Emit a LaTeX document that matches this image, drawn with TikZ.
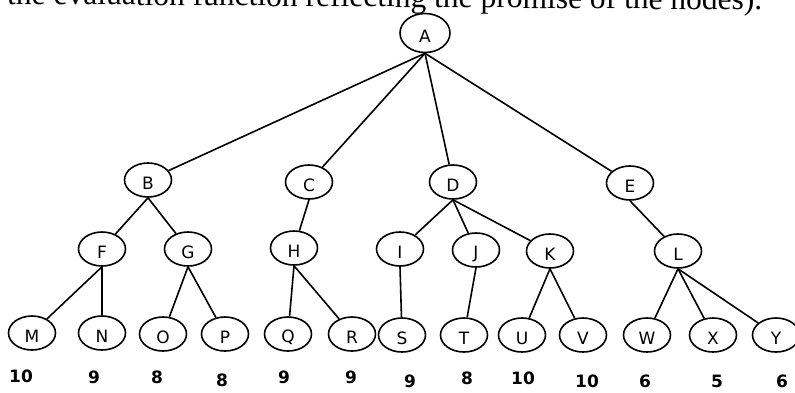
\documentclass[tikz,border=0pt]{standalone}
\usepackage{fontspec}
\setmainfont{Liberation Serif}
\newfontfamily\nodefont{DejaVu Sans}
\usetikzlibrary{shapes.geometric}

\tikzset{
  treenode/.style={ellipse, draw, line width=1.6pt, inner sep=0pt,
                   minimum width=47pt, minimum height=34pt},
  rootnode/.style={treenode, minimum width=50pt, minimum height=39pt},
  letter/.style={yshift=-3.5pt, inner sep=0pt, font=\nodefont\fontsize{17}{17}\selectfont},
  score/.style={inner sep=0pt, font=\nodefont\bfseries\fontsize{17}{17}\selectfont},
  edge/.style={line width=1.6pt},
}

\begin{document}
\begin{tikzpicture}[x=1pt, y=-1pt]
  \useasboundingbox (0,0) rectangle (795,392);
  \clip (0,0) rectangle (795,392);

  % running text line above the tree
  \node[anchor=base west, inner sep=0pt, rotate=-0.45] (caption) at (7,4)
    {\resizebox{755pt}{!}{the evaluation function reflecting the promise of the nodes).}};

  % root
  \node[rootnode, label={[letter]center:A}] (A) at (425,33) {};

  % level 1
  \node[treenode, label={[letter]center:B}] (B) at (148,180) {};
  \node[treenode, label={[letter]center:C}] (C) at (309,182) {};
  \node[treenode, label={[letter]center:D}] (D) at (453,182) {};
  \node[treenode, label={[letter]center:E}] (E) at (630,183) {};

  % level 2
  \node[treenode, label={[letter]center:F}] (F) at (102,249) {};
  \node[treenode, label={[letter]center:G}] (G) at (188,249) {};
  \node[treenode, label={[letter]center:H}] (H) at (294,248) {};
  \node[treenode, label={[letter]center:I}] (I) at (400,249) {};
  \node[treenode, label={[letter]center:J}] (J) at (476,250) {};
  \node[treenode, label={[letter]center:K}] (K) at (550,251) {};
  \node[treenode, label={[letter]center:L}] (L) at (678,251) {};

  % leaves
  \node[treenode, label={[letter]center:M}] (M) at (32,333) {};
  \node[treenode, label={[letter]center:N}] (N) at (102,333) {};
  \node[treenode, label={[letter]center:O}] (O) at (163,334) {};
  \node[treenode, label={[letter]center:P}] (P) at (225,334) {};
  \node[treenode, label={[letter]center:Q}] (Q) at (288,334) {};
  \node[treenode, label={[letter]center:R}] (R) at (352,334) {};
  \node[treenode, label={[letter]center:S}] (S) at (402,335) {};
  \node[treenode, label={[letter]center:T}] (T) at (464,335) {};
  \node[treenode, label={[letter]center:U}] (U) at (522,335) {};
  \node[treenode, label={[letter]center:V}] (V) at (583,335) {};
  \node[treenode, label={[letter]center:W}] (W) at (647,335) {};
  \node[treenode, label={[letter]center:X}] (X) at (713,335) {};
  \node[treenode, label={[letter]center:Y}] (Y) at (776,335) {};

  % heuristic values under the leaves
  \node[score] (vM) at (21,376) {10};
  \node[score] (vN) at (94,377) {9};
  \node[score] (vO) at (157,377) {8};
  \node[score] (vP) at (222,380) {8};
  \node[score] (vQ) at (284,377) {9};
  \node[score] (vR) at (351,377) {9};
  \node[score] (vS) at (410,381) {9};
  \node[score] (vT) at (467,378) {8};
  \node[score] (vU) at (523,378) {10};
  \node[score] (vV) at (587,381) {10};
  \node[score] (vW) at (645,381) {6};
  \node[score] (vX) at (717,381) {5};
  \node[score] (vY) at (782,381) {6};

  % edges
  \foreach \p/\c in {A/B, A/C, A/D, A/E,
                     B/F, B/G, C/H, D/I, D/J, D/K, E/L,
                     F/M, F/N, G/O, G/P, H/Q, H/R,
                     I/S, J/T, K/U, K/V, L/W, L/X, L/Y}
    \draw[edge] (\p.south) -- (\c);
\end{tikzpicture}
\end{document}
